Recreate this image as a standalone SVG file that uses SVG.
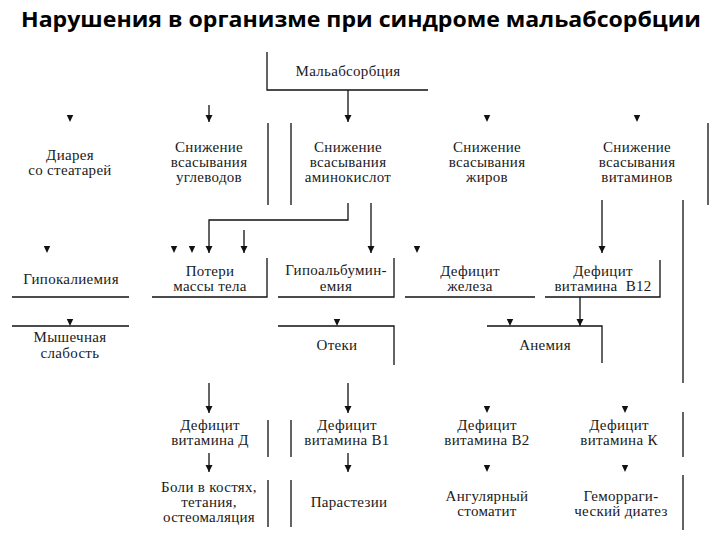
<svg xmlns="http://www.w3.org/2000/svg" xmlns:xlink="http://www.w3.org/1999/xlink" width="720" height="540" viewBox="0 0 720 540">
<style>
.t{font-family:'Liberation Serif',serif;font-size:15px;fill:#1a1a1a;text-anchor:middle;letter-spacing:0.3px}
.ttl{font-family:'Open Sans','Noto Sans',sans-serif;font-size:22px;font-weight:bold;fill:#000}
.ln{fill:none;stroke:#111;stroke-width:1.3}
.ah{fill:#111}
</style>
<defs>
<marker id="arr" markerUnits="userSpaceOnUse" markerWidth="8" markerHeight="8" refX="7" refY="3.5" orient="auto">
<path d="M0,0 L7,3.5 L0,7 z" fill="#111"/>
</marker>
<path id="ah" class="ah" d="M-3.2,-7 L3.2,-7 L0,0 z"/>
</defs>
<rect width="720" height="540" fill="#fff"/>
<text class="ttl" x="361" y="27" text-anchor="middle" textLength="680" lengthAdjust="spacingAndGlyphs">Нарушения в организме при синдроме мальабсорбции</text>

<g id="connectors">
<path class="ln" d="M348,90 V122" marker-end="url(#arr)"/>
<path class="ln" d="M209,105 V122" marker-end="url(#arr)"/>
<path class="ln" d="M348,203 V220 H209 V253" marker-end="url(#arr)"/>
<path class="ln" d="M244,230 V253" marker-end="url(#arr)"/>
<path class="ln" d="M371,203 V253" marker-end="url(#arr)"/>
<path class="ln" d="M602,200 V253" marker-end="url(#arr)"/>
<path class="ln" d="M580,297 V326" marker-end="url(#arr)"/>
<path class="ln" d="M209,383 V413" marker-end="url(#arr)"/>
<path class="ln" d="M209,453 V472" marker-end="url(#arr)"/>
<path class="ln" d="M348,383 V413" marker-end="url(#arr)"/>
<path class="ln" d="M348,453 V472" marker-end="url(#arr)"/>
<use xlink:href="#ah" x="70" y="122"/>
<use xlink:href="#ah" x="487" y="122"/>
<use xlink:href="#ah" x="637" y="122"/>
<use xlink:href="#ah" x="47" y="253"/>
<use xlink:href="#ah" x="174" y="253"/>
<use xlink:href="#ah" x="192" y="253"/>
<use xlink:href="#ah" x="417" y="253"/>
<use xlink:href="#ah" x="70" y="326"/>
<use xlink:href="#ah" x="337" y="326"/>
<use xlink:href="#ah" x="510" y="326"/>
<use xlink:href="#ah" x="487" y="413"/>
<use xlink:href="#ah" x="625" y="413"/>
<use xlink:href="#ah" x="487" y="472"/>
<use xlink:href="#ah" x="625" y="472"/>
<path class="ln" d="M268,123 V205 M291,123 V205 M708,123 V205 M683,200 V383"/>
<path class="ln" d="M268,420 V457 M291,420 V457 M683,412 V457"/>
<path class="ln" d="M268,480 V527 M291,480 V527 M683,475 V530"/>
</g>

<g id="n-malabs"><path class="ln" d="M267,52 V90 H428"/><text class="t" x="348" y="76">Мальабсорбция</text></g>
<g id="n-diarrhea"><text class="t" x="70" y="160">Диарея</text><text class="t" x="70" y="175">со стеатарей</text></g>
<g id="n-carb"><text class="t" x="209" y="152">Снижение</text><text class="t" x="209" y="167">всасывания</text><text class="t" x="209" y="182">углеводов</text></g>
<g id="n-amino"><text class="t" x="348" y="152">Снижение</text><text class="t" x="348" y="167">всасывания</text><text class="t" x="348" y="182">аминокислот</text></g>
<g id="n-fat"><text class="t" x="487" y="152">Снижение</text><text class="t" x="487" y="167">всасывания</text><text class="t" x="487" y="182">жиров</text></g>
<g id="n-vit"><text class="t" x="637" y="152">Снижение</text><text class="t" x="637" y="167">всасывания</text><text class="t" x="637" y="182">витаминов</text></g>

<g id="n-hypok"><text class="t" x="71" y="284">Гипокалиемия</text><path class="ln" d="M12,297 H129"/></g>
<g id="n-weight"><text class="t" x="210" y="276">Потери</text><text class="t" x="210" y="291">массы тела</text><path class="ln" d="M152,297 H267 V258"/></g>
<g id="n-hypoalb"><text class="t" x="336" y="275">Гипоальбумин-</text><text class="t" x="336" y="291">емия</text><path class="ln" d="M278,297 H394 V258"/></g>
<g id="n-iron"><text class="t" x="470" y="276">Дефицит</text><text class="t" x="470" y="291">железа</text><path class="ln" d="M405,297 H535"/></g>
<g id="n-b12"><text class="t" x="603" y="276">Дефицит</text><text class="t" x="603" y="291" xml:space="preserve">витамина  В12</text><path class="ln" d="M545,297 H660 V260"/></g>

<g id="n-muscle"><path class="ln" d="M12,326 H129"/><text class="t" x="70" y="342">Мышечная</text><text class="t" x="70" y="358">слабость</text></g>
<g id="n-edema"><path class="ln" d="M278,326 H394 V365"/><text class="t" x="337" y="350">Отеки</text></g>
<g id="n-anemia"><path class="ln" d="M487,326 H602 V363"/><text class="t" x="545" y="350">Анемия</text></g>

<g id="n-vitd"><text class="t" x="210" y="430">Дефицит</text><text class="t" x="210" y="445">витамина Д</text></g>
<g id="n-vitb1"><text class="t" x="347" y="430">Дефицит</text><text class="t" x="347" y="445">витамина В1</text></g>
<g id="n-vitb2"><text class="t" x="487" y="430">Дефицит</text><text class="t" x="487" y="445">витамина В2</text></g>
<g id="n-vitk"><text class="t" x="619" y="430">Дефицит</text><text class="t" x="619" y="445">витамина К</text></g>

<g id="n-bones"><text class="t" x="209" y="492">Боли в костях,</text><text class="t" x="209" y="507">тетания,</text><text class="t" x="209" y="522">остеомаляция</text></g>
<g id="n-par"><text class="t" x="349" y="507">Парастезии</text></g>
<g id="n-ang"><text class="t" x="487" y="501">Ангулярный</text><text class="t" x="487" y="516">стоматит</text></g>
<g id="n-hem"><text class="t" x="621" y="501">Геморраги-</text><text class="t" x="621" y="516">ческий диатез</text></g>
</svg>
